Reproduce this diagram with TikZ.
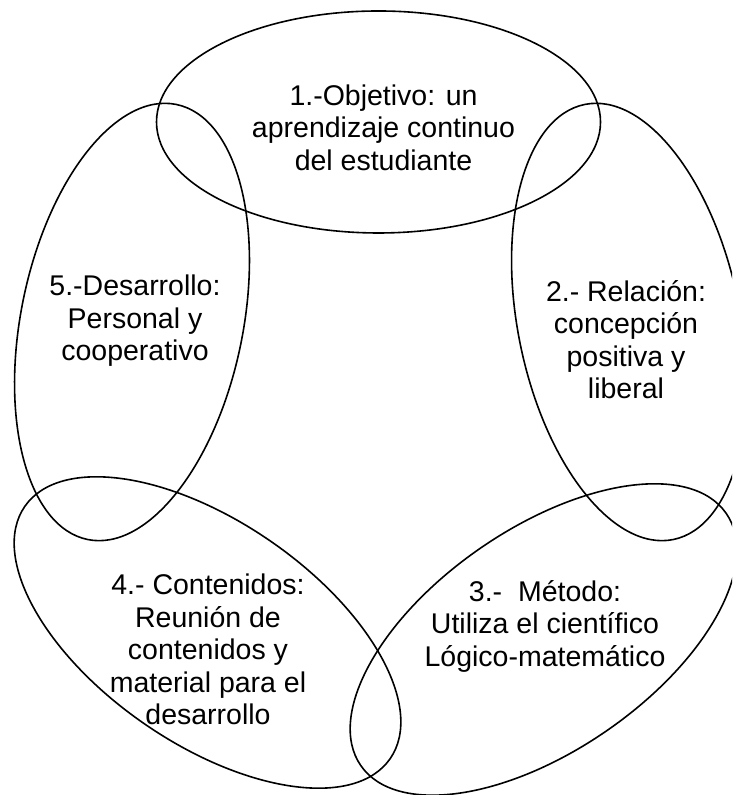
\documentclass[tikz,border=0pt]{standalone}
\usepackage{fontspec}
\setmainfont{Liberation Sans}
\usepackage{tikz}
\usetikzlibrary{shapes,positioning}

\begin{document}
\begin{tikzpicture}[x=0.5pt,y=0.5pt,
ring/.style={
% The shape:
ellipse,
minimum width=222pt,minimum height=111pt,inner sep=0pt,
% The rest
draw=black,line width=0.8pt},
ringtext/.style={
align=center,inner sep=0pt,
font=\fontsize{14.25}{16.25}\selectfont}]

\clip (0,0) rectangle (732,795);

% the five rings
\node (Objetivo) [ring] at (378.5,673) {};
\node (Relacion) [ring,rotate=101.5] at (629,473) {};
\node (Metodo) [ring,rotate=34.6] at (543.5,155.5) {};
\node (Contenidos) [ring,rotate=-34.6] at (207.5,162.5) {};
\node (Desarrollo) [ring,rotate=78.5] at (132,473) {};

% texts
\node (ObjetivoTxt) [ringtext] at (383.5,667.5) {1.-Objetivo: un\\aprendizaje continuo\\del estudiante};
\node (RelacionTxt) [ringtext] at (626,455.5) {2.- Relación:\\concepción\\positiva y\\liberal};
\node (MetodoTxt) [ringtext] at (545,169) {3.-\ \ Método:\\Utiliza el científico\\Lógico-matemático};
\node (ContenidosTxt) [ringtext] at (208,145.5) {4.- Contenidos:\\Reunión de\\contenidos y\\material para el\\desarrollo};
\node (DesarrolloTxt) [ringtext] at (135,474) {5.-Desarrollo:\\Personal y\\cooperativo};

\end{tikzpicture}
\end{document}
